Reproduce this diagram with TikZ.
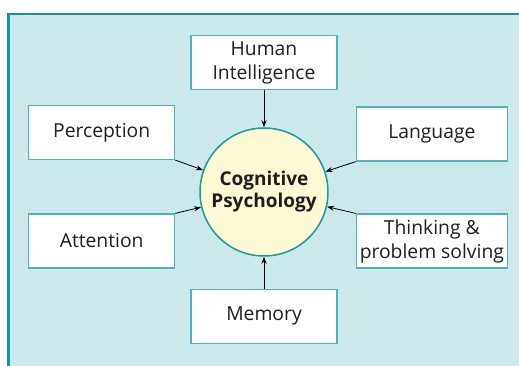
\documentclass[tikz,border=0pt]{standalone}
\usepackage{fontspec}
\setmainfont{Open Sans}
\usepackage{xcolor}
\usetikzlibrary{arrows.meta, positioning}

\definecolor{panelfill}{HTML}{CBE9EB}
\definecolor{panelline}{HTML}{14979C}
\definecolor{boxline}{HTML}{4FB4BA}
\definecolor{corefill}{HTML}{FEF9D5}
\definecolor{coreline}{HTML}{1A9A9E}
\definecolor{inkgray}{HTML}{1E1E1E}

\begin{document}
\begin{tikzpicture}[
    node distance=24pt and 24pt,
    topic/.style={rectangle, draw=boxline, line width=1.2pt, fill=white, minimum width=146pt, minimum height=54pt, align=center, inner sep=2pt, text=inkgray, font=\fontsize{19.3}{24}\selectfont},
    widetopic/.style={topic, minimum width=151pt},
    core/.style={circle, draw=coreline, line width=1.5pt, fill=corefill, minimum size=128pt, align=center, text=inkgray, font=\fontsize{19}{22}\selectfont\bfseries},
    arrow/.style={-{Stealth[length=7pt, width=5pt]}, line width=0.8pt}
]

% Canvas and panel
\clip (0,0) rectangle (519pt,366pt);
\fill[white] (0,0) rectangle (519pt,366pt);
\draw[fill=panelfill, draw=panelline, line width=2.5pt] (8.5pt,352pt) rectangle (540pt,-20pt);

% Nodes
\node[core] (cogpsy) at (264pt,174pt) {Cognitive\\Psychology};
\node[topic, above=37pt of cogpsy] (intel) {Human\\Intelligence};
\node[topic, below=32pt of cogpsy] (memory) {Memory};
\node[topic, left=24pt of cogpsy, yshift=59.5pt] (perc) {Perception};
\node[topic, left=24pt of cogpsy, yshift=-49pt] (attn) {Attention};
\node[widetopic, right=27pt of cogpsy, yshift=58pt] (lang) {Language};
\node[widetopic, right=27pt of cogpsy, yshift=-49pt] (think) {Thinking \&\\problem solving};

% Arrows
\draw[arrow] (intel) -- (cogpsy);
\draw[arrow] (memory) -- (cogpsy);
\draw[arrow] (perc.south east) -- (cogpsy);
\draw[arrow] (attn.north east) -- (cogpsy);
\draw[arrow] (lang.south west) -- (cogpsy);
\draw[arrow] (think.north west) -- (cogpsy);

\end{tikzpicture}
\end{document}
